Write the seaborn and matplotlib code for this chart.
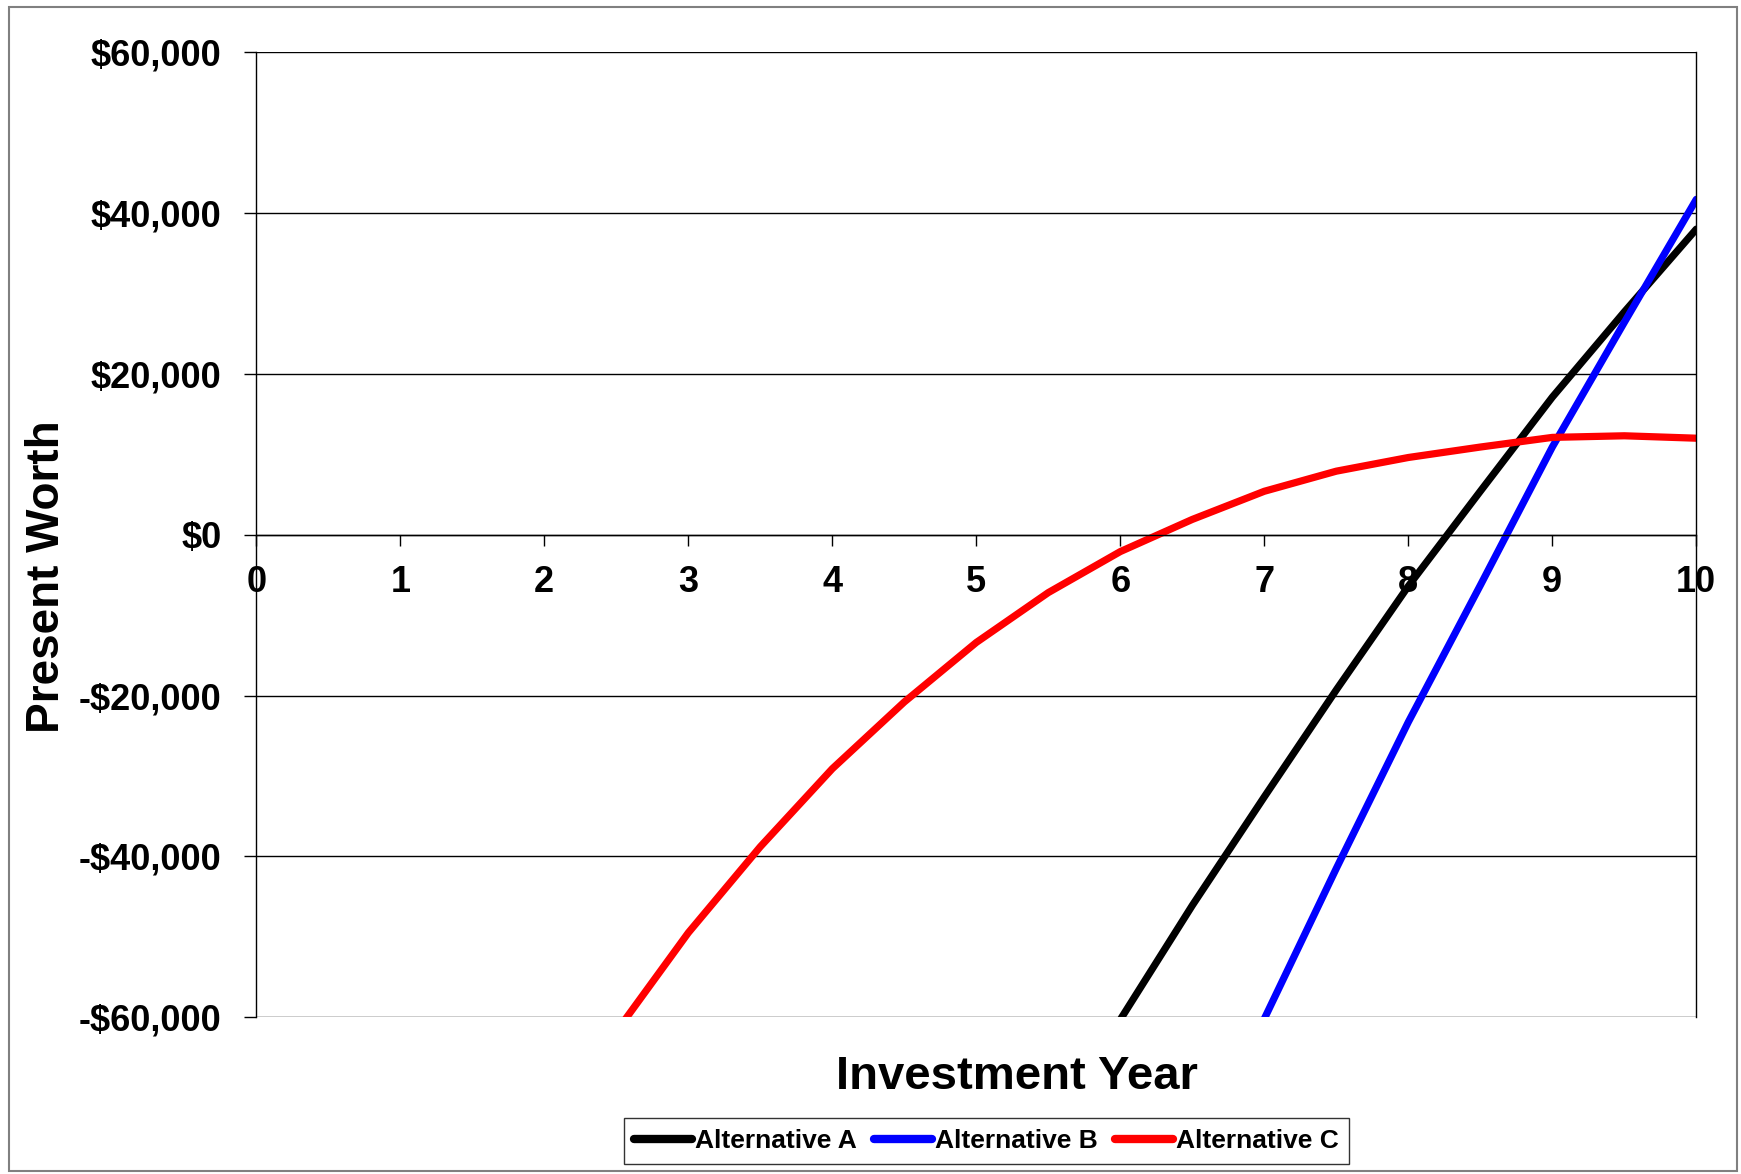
import numpy as np
import pandas as pd
import matplotlib
matplotlib.use("Agg")
import matplotlib.pyplot as plt
from matplotlib.patches import Rectangle
import seaborn as sns

# ---- data (year, present worth) ----
years_a = [5.5, 6, 6.5, 7, 7.5, 8, 8.5, 9, 9.5, 10]
pw_a = [-74300, -60300, -46100, -32600, -19300, -6400, 5400, 17100, 27700, 38000]

years_b = [6.5, 7, 7.5, 8, 8.5, 9, 9.5, 10]
pw_b = [-79000, -60200, -41500, -23300, -6300, 10900, 26400, 41700]

years_c = [2.5, 3, 3.5, 4, 4.5, 5, 5.5, 6, 6.5, 7, 7.5, 8, 8.5, 9, 9.5, 10]
pw_c = [-61800, -49500, -38800, -29100, -20800, -13400, -7200, -2100, 1900,
        5400, 7900, 9600, 10900, 12100, 12300, 12000]

series_names = ["Alternative A", "Alternative B", "Alternative C"]
series_colors = ["#000000", "#0000FF", "#FF0000"]

x_ticks = list(range(0, 11))
y_ticks = [-60000, -40000, -20000, 0, 20000, 40000, 60000]
y_tick_labels = ["-$60,000", "-$40,000", "-$20,000", "$0", "$20,000", "$40,000", "$60,000"]

x_label = "Investment Year"
y_label = "Present Worth"

# ---- build long-form table ----
df = pd.concat([
    pd.DataFrame({"Year": years_a, "PW": pw_a, "Alt": series_names[0]}),
    pd.DataFrame({"Year": years_b, "PW": pw_b, "Alt": series_names[1]}),
    pd.DataFrame({"Year": years_c, "PW": pw_c, "Alt": series_names[2]}),
], ignore_index=True)

sns.set_theme(style="white")
plt.rcParams["font.family"] = ["Liberation Sans", "DejaVu Sans"]
plt.rcParams["font.weight"] = "bold"
plt.rcParams["text.color"] = "black"
plt.rcParams["axes.labelcolor"] = "black"
plt.rcParams["xtick.color"] = "black"
plt.rcParams["ytick.color"] = "black"
plt.rcParams["axes.labelweight"] = "bold"

W, H = 1741, 1174
fig = plt.figure(figsize=(W / 100, H / 100), dpi=100)
fig.patch.set_facecolor("white")

left_px, right_px, top_px, bottom_px = 256.3, 1696.3, 52.2, 1017.2
ax = fig.add_axes([left_px / W, 1 - bottom_px / H,
                   (right_px - left_px) / W, (bottom_px - top_px) / H])

sns.lineplot(data=df, x="Year", y="PW", hue="Alt", hue_order=series_names,
             palette=series_colors, linewidth=5.2, ax=ax, legend=False,
             sort=True, estimator=None)
for ln in ax.get_lines():
    ln.set_solid_joinstyle("round")

for s in ["left", "right", "top", "bottom"]:
    ax.spines[s].set_visible(True)
    ax.spines[s].set_color("#000000")
    ax.spines[s].set_linewidth(1.0)
ax.spines["bottom"].set_position(("data", 0))
ax.spines["top"].set_visible(False)

ax.set_xlim(0, 10)
ax.set_ylim(-60000, 60000)
ax.set_xticks(x_ticks)
ax.set_xticklabels([str(t) for t in x_ticks])
ax.set_yticks(y_ticks)
ax.set_yticklabels(y_tick_labels)

ax.grid(axis="y", color="#000000", linewidth=1.0)
ax.grid(axis="x", visible=False)
ax.set_axisbelow(True)

ax.tick_params(axis="y", which="major", direction="out", length=8.4, width=1.0,
               color="#000000", pad=16.5, left=True, right=False,
               labelsize=26, labelcolor="black")
ax.tick_params(axis="x", which="major", direction="out", length=8.0, width=1.0,
               color="#000000", pad=14.0, bottom=True, top=False,
               labelsize=26, labelcolor="black")
for lab in ax.get_xticklabels() + ax.get_yticklabels():
    lab.set_fontweight("bold")

ax.set_xlabel(x_label, fontsize=34, fontweight="bold", color="black")
ax.set_ylabel(y_label, fontsize=33, fontweight="bold", color="black")
ax.xaxis.set_label_coords((1017 - left_px) / (right_px - left_px),
                          (bottom_px - 1077) / (bottom_px - top_px))
ax.xaxis.label.set_va("center")
ax.yaxis.set_label_coords((46.6 - left_px) / (right_px - left_px),
                          (bottom_px - 577) / (bottom_px - top_px))
ax.yaxis.label.set_va("center")

# legend
handles = ax.get_lines()[:3]
leg = fig.legend(handles, series_names, loc="center",
                 bbox_to_anchor=(986.5 / W, 1 - 1141 / H),
                 ncol=3, frameon=True, fancybox=False,
                 handlelength=2.2, handletextpad=0.12, columnspacing=0.64,
                 borderpad=0.4, borderaxespad=0.0,
                 prop={"weight": "bold", "size": 19})
leg.get_frame().set_edgecolor("#000000")
leg.get_frame().set_linewidth(1.0)
for lh in leg.get_lines():
    lh.set_linewidth(6.0)

# outer chart border
fig.patches.append(Rectangle((9 / W, 1 - 1171 / H), (1737 - 9) / W, (1171 - 7) / H,
                             transform=fig.transFigure, fill=False,
                             edgecolor="#808080", linewidth=1.5))

fig.savefig("out.png", dpi=100, facecolor="white")
